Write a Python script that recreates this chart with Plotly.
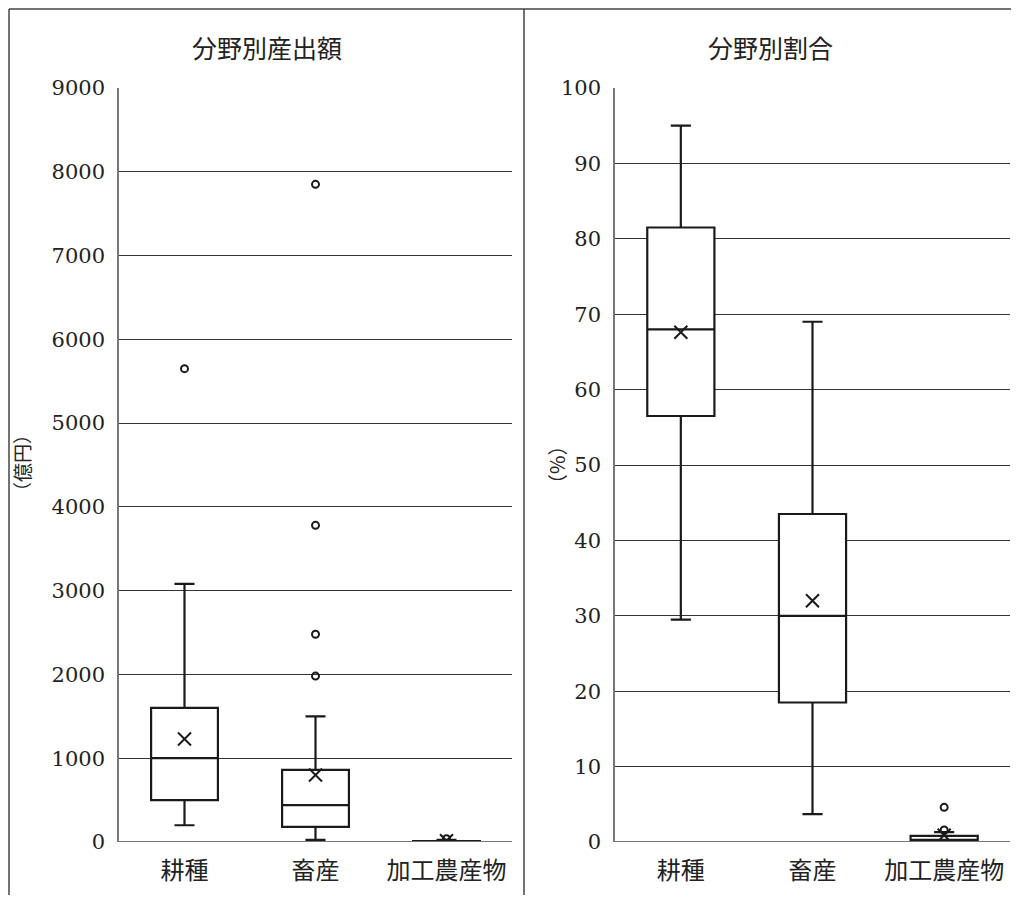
import plotly.graph_objects as go

# page is rendered with an 8px body margin; figure is sized to fit the window
OFF = 8
W, H = 1019 - 2 * OFF, 903 - 2 * OFF

categories = ["耕種", "畜産", "加工農産物"]

# 分野別産出額 (億円)
amt_q1 = [500, 180, 0]
amt_median = [1000, 440, 3]
amt_q3 = [1600, 860, 12]
amt_lower = [200, 25, 0]
amt_upper = [3080, 1500, 25]
amt_mean = [1230, 800, 15]
amt_out_cat = ["耕種", "畜産", "畜産", "畜産", "畜産", "加工農産物"]
amt_out_val = [5650, 1980, 2480, 3780, 7850, 40]

# 分野別割合 (%)
pct_q1 = [56.5, 18.5, 0.1]
pct_median = [68.0, 30.0, 0.3]
pct_q3 = [81.5, 43.5, 0.8]
pct_lower = [29.5, 3.7, 0.0]
pct_upper = [95.0, 69.0, 1.3]
pct_mean = [67.6, 32.0, 0.9]
pct_out_cat = ["加工農産物", "加工農産物"]
pct_out_val = [1.6, 4.6]

NUM_FONT = "DejaVu Serif, Noto Sans CJK JP"
JP_FONT = "Noto Sans CJK JP"
INK = "#1a1a1a"


def px(x):
    return (x - OFF) / W


def py(y):
    return 1 - (y - OFF) / H


fig = go.Figure()

for (q1, med, q3, lo, up, mean, oc, ov, xa, ya) in [
    (amt_q1, amt_median, amt_q3, amt_lower, amt_upper, amt_mean, amt_out_cat, amt_out_val, "x", "y"),
    (pct_q1, pct_median, pct_q3, pct_lower, pct_upper, pct_mean, pct_out_cat, pct_out_val, "x2", "y2"),
]:
    fig.add_trace(go.Box(
        x=categories, q1=q1, median=med, q3=q3, lowerfence=lo, upperfence=up,
        boxpoints=False, width=0.51, whiskerwidth=0.3,
        fillcolor="white", line=dict(color=INK, width=2.2),
        xaxis=xa, yaxis=ya, showlegend=False, hoverinfo="skip",
    ))
    fig.add_trace(go.Scatter(
        x=categories, y=mean, mode="markers",
        marker=dict(symbol="x-thin", size=13, line=dict(color=INK, width=2)),
        xaxis=xa, yaxis=ya, showlegend=False, hoverinfo="skip",
    ))
    fig.add_trace(go.Scatter(
        x=oc, y=ov, mode="markers",
        marker=dict(symbol="circle-open", size=7, color=INK, line=dict(color=INK, width=2)),
        xaxis=xa, yaxis=ya, showlegend=False, hoverinfo="skip",
    ))

common_x = dict(
    type="category", categoryorder="array", categoryarray=categories,
    range=[-0.5, 2.5], autorange=False,
    showgrid=False, showline=False, zeroline=False, ticks="", automargin=False,
    tickfont=dict(family=JP_FONT, size=24, color="#222"),
    ticklabelstandoff=12, fixedrange=True,
)
common_y = dict(
    showgrid=True, gridcolor="#333", gridwidth=1, zeroline=False, automargin=False,
    showline=True, linecolor="#777", linewidth=1.5, ticks="",
    tickfont=dict(family=NUM_FONT, size=21, color="#222"),
    ticklabelstandoff=8, fixedrange=True,
)

fig.update_layout(
    template="none",
    width=W, height=H,
    margin=dict(l=0, r=0, t=0, b=0, pad=0),
    paper_bgcolor="white", plot_bgcolor="white",
    xaxis=dict(domain=[px(119), px(512)], anchor="y", **common_x),
    yaxis=dict(domain=[py(842), py(88)], anchor="x", range=[0, 9000], dtick=1000, **common_y),
    xaxis2=dict(domain=[px(615), px(1010)], anchor="y2", **common_x),
    yaxis2=dict(domain=[py(842), py(88)], anchor="x2", range=[0, 100], dtick=10, **common_y),
    boxgap=0.49,
)

# bottom axis lines
for xa, ya in [("x domain", "y"), ("x2 domain", "y2")]:
    fig.add_shape(type="line", xref=xa, yref=ya, x0=0, x1=1, y0=0, y1=0,
                  line=dict(color="#777", width=2))

# frame
frame = dict(color="#444", width=1.5)
fig.add_shape(type="line", xref="paper", yref="paper", x0=px(9), x1=1, y0=py(9), y1=py(9), line=frame)
fig.add_shape(type="line", xref="paper", yref="paper", x0=px(9), x1=px(9), y0=py(9), y1=0, line=frame)
fig.add_shape(type="line", xref="paper", yref="paper", x0=px(524), x1=px(524), y0=py(9), y1=0, line=frame)

# titles
fig.add_annotation(text="分野別産出額", xref="paper", yref="paper", x=px(267), y=py(47),
                   showarrow=False, font=dict(family=JP_FONT, size=25, color="#222"),
                   xanchor="center", yanchor="middle")
fig.add_annotation(text="分野別割合", xref="paper", yref="paper", x=px(770), y=py(47),
                   showarrow=False, font=dict(family=JP_FONT, size=25, color="#222"),
                   xanchor="center", yanchor="middle")
# axis titles
fig.add_annotation(text="（億円）", xref="paper", yref="paper", x=px(22), y=py(463),
                   showarrow=False, textangle=-90, font=dict(family=JP_FONT, size=19, color="#222"),
                   xanchor="center", yanchor="middle")
fig.add_annotation(text="（%）", xref="paper", yref="paper", x=px(556), y=py(465),
                   showarrow=False, textangle=-90, font=dict(family=JP_FONT, size=20, color="#222"),
                   xanchor="center", yanchor="middle")

fig.write_html("out.html")
